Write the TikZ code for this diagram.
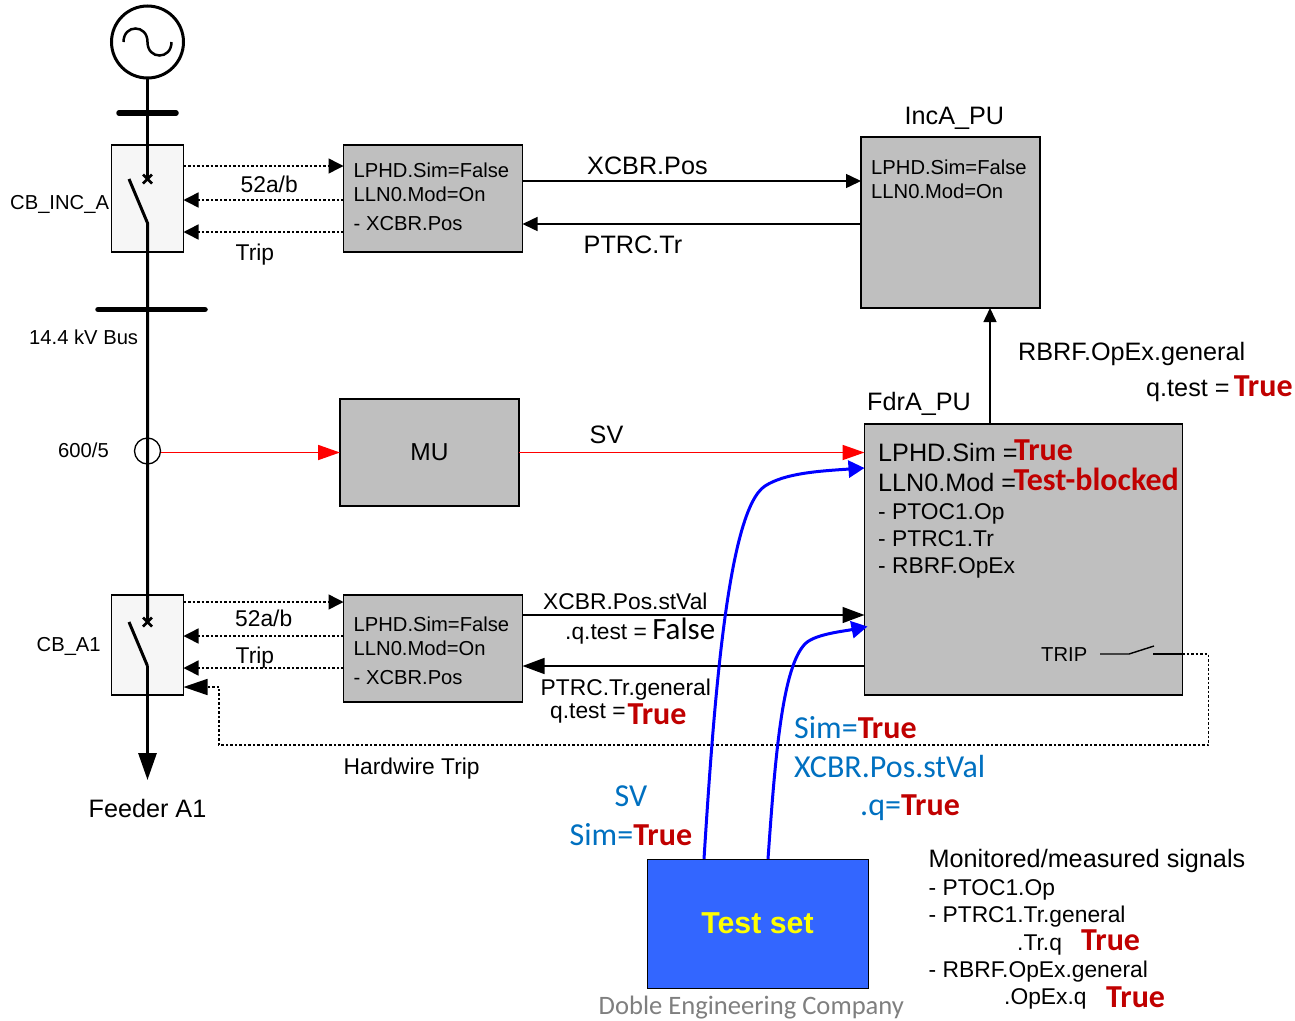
\documentclass[tikz,border=0pt]{standalone}
\usepackage{fontspec}
\setmainfont{Liberation Sans}
\newfontfamily\calibri{Carlito}
\usetikzlibrary{arrows.meta,shapes.misc}
\definecolor{boxgray}{HTML}{BFBFBF}
\definecolor{cbfill}{HTML}{F6F6F6}
\definecolor{truered}{HTML}{C00000}
\definecolor{simblue}{HTML}{0070C0}
\definecolor{testblue}{HTML}{3366FF}
\definecolor{testyellow}{HTML}{FFFF00}
\definecolor{credit}{HTML}{7F7F7F}
\newcommand{\szA}{\fontsize{20.2}{24}\selectfont}
\newcommand{\szB}{\fontsize{22.8}{27}\selectfont}
\newcommand{\szC}{\fontsize{25.2}{30}\selectfont}
\newcommand{\tval}[1]{{\calibri\bfseries\fontsize{32}{38}\selectfont\color{truered}#1}}
\tikzset{
  graybox/.style={draw,line width=1.4pt,fill=boxgray,inner sep=0pt,outer sep=0pt},
  cbbox/.style={draw,line width=1.2pt,fill=cbfill,inner sep=0pt,outer sep=0pt,minimum width=72pt},
  txt/.style={inner sep=0pt,anchor=base west,text=black},
  ctxt/.style={inner sep=0pt,anchor=base,text=black},
  bluetxt/.style={inner sep=0pt,anchor=base west,text=simblue,font=\calibri\fontsize{32}{38}\selectfont},
  busline/.style={line width=3pt},
  busbar/.style={line width=5.5pt,line cap=round},
  dotline/.style={dash pattern=on 2.5pt off 2pt,line width=1.5pt},
  dotarrow/.style={dotline,-{Triangle[length=15pt,width=15pt]}},
  sigarrow/.style={line width=1.5pt,-{Triangle[length=15pt,width=14pt]}},
  thinarrow/.style={line width=1.5pt,-{Triangle[length=14pt,width=13pt]}},
  bigarrow/.style={line width=1.5pt,-{Triangle[length=22pt,width=16pt]}},
  redarrow/.style={red,line width=1.8pt,-{Triangle[length=22pt,width=15pt]}},
  bluearrow/.style={blue,line width=3pt,-{Triangle[length=16pt,width=17pt]}},
  brk/.style={cross out,draw,line width=2.5pt,inner sep=0pt,minimum size=9pt,outer sep=0pt}
}
\begin{document}
\begin{tikzpicture}[x=1pt,y=-1pt]
  \useasboundingbox (0,0) rectangle (1295,1020);

  \node (src) [circle,draw,line width=3pt,minimum size=72pt,inner sep=0pt,outer sep=0pt] at (147.5,42) {};
  \draw [line width=2.5pt] (123.5,42) .. controls (123.5,24) and (147.5,24) .. (147.5,42)
    .. controls (147.5,60) and (171.5,60) .. (171.5,42);

  \node (cbinc) [cbbox,minimum height=107pt] at (147.5,198.5) {};
  \node (cba) [cbbox,minimum height=100pt] at (147.5,645) {};
  \node (iedinc) [graybox,minimum width=179pt,minimum height=107pt] at (433,198.5) {};
  \node (iedfdr) [graybox,minimum width=179pt,minimum height=107pt] at (433,648.5) {};
  \node (mu) [graybox,minimum width=179pt,minimum height=107pt] at (429.5,452.5) {\fontsize{24.5}{29}\selectfont MU};
  \node (incpu) [graybox,minimum width=179pt,minimum height=171pt] at (950.5,222.5) {};
  \node (fdrpu) [graybox,minimum width=318pt,minimum height=271pt] at (1023.5,559.5) {};
  \node (testset) [draw,line width=1pt,fill=testblue,inner sep=0pt,outer sep=0pt,minimum width=221pt,minimum height=129pt,
    text=testyellow,font=\bfseries\fontsize{30.3}{36}\selectfont] at (757.5,923.5) {Test set};

  \coordinate (barincl) at (119,113);
  \coordinate (barincr) at (176,113);
  \coordinate (buslft) at (98,309.5);
  \coordinate (busrgt) at (205,309.5);
  \node (xinc) [brk] at (147.5,179) {};
  \node (xa) [brk] at (147.5,622) {};
  \coordinate (bladeinc) at (129,179);
  \coordinate (hingeinc) at (147.5,223);
  \coordinate (bladea) at (129,622);
  \coordinate (hingea) at (147.5,666);
  \coordinate (feeder) at (147.5,780);
  \node (ct) [circle,draw,line width=1.3pt,minimum size=26pt,inner sep=0pt,outer sep=0pt] at (147.5,451) {};

  \draw [busline] (src.south) -- (xinc.center);
  \draw [busline] (bladeinc) -- (hingeinc) -- (xa.center);
  \draw [busline] (bladea) -- (hingea);
  \draw [busline,-{Triangle[length=27pt,width=18pt]}] (hingea) -- (feeder);
  \draw [busbar] (barincl) -- (barincr);
  \draw [busbar] (buslft) -- (busrgt);

  \draw [dotarrow] ([yshift=32.5pt]cbinc.east) -- ([yshift=32.5pt]iedinc.west);
  \draw [dotarrow] ([yshift=-1.5pt]iedinc.west) -- ([yshift=-1.5pt]cbinc.east);
  \draw [dotarrow] ([yshift=-33.5pt]iedinc.west) -- ([yshift=-33.5pt]cbinc.east);
  \draw [dotarrow] ([yshift=43pt]cba.east) -- ([yshift=46.5pt]iedfdr.west);
  \draw [dotarrow] ([yshift=12.5pt]iedfdr.west) -- ([yshift=9pt]cba.east);
  \draw [dotarrow] ([yshift=-19.5pt]iedfdr.west) -- ([yshift=-23pt]cba.east);

  \draw [sigarrow] ([yshift=17.5pt]iedinc.east) -- ([yshift=17.5pt]incpu.west |- iedinc.east);
  \draw [sigarrow] ([yshift=-25.5pt]incpu.west |- iedinc.east) -- ([yshift=-25.5pt]iedinc.east);
  \draw [thinarrow] (fdrpu.north -| 990,0) -- (incpu.south -| 990,0);
  \draw [redarrow] (160.5,452.5) -- (mu.west);
  \draw [redarrow] (mu.east) -- (fdrpu.west |- mu.east);
  \draw [bigarrow] ([yshift=33.5pt]iedfdr.east) -- ([yshift=33.5pt]fdrpu.west |- iedfdr.east);
  \draw [bigarrow] ([yshift=-17.5pt]fdrpu.west |- iedfdr.east) -- ([yshift=-17.5pt]iedfdr.east);

  \coordinate (tripa) at (1100,654);
  \coordinate (tripb) at (1129,654);
  \coordinate (tripc) at (1154,646);
  \coordinate (tripd) at (1153,654);
  \coordinate (tripe) at (1182,654);
  \coordinate (hwa) at (1208.5,654);
  \coordinate (hwb) at (1208.5,745);
  \coordinate (hwc) at (219,745);
  \coordinate (hwd) at (219,687);
  \draw [line width=1.4pt] (tripa) -- (tripb) -- (tripc);
  \draw [line width=1.4pt] (tripd) -- (tripe);
  \draw [dotline] (tripe) -- (hwa) -- (hwb) -- (hwc) -- (hwd);
  \draw [dotline,-{Triangle[length=24pt,width=16pt]}] (hwd) -- ([yshift=-42pt]cba.east);

  \draw [bluearrow] ([xshift=-53.5pt]testset.north) .. controls (714,700) and (728,510) .. (765,486)
    .. controls (785,473) and (820,471) .. ([yshift=91.5pt]fdrpu.west);
  \draw [bluearrow] ([xshift=10.5pt]testset.north) .. controls (775,760) and (782,665) .. (806,643)
    .. controls (816,634) and (845,631) .. ([xshift=3pt,yshift=-67pt]fdrpu.west);

  \node (cbinclbl) [txt,font=\szA] at (10,209) {CB\_INC\_A};
  \node (cbalbl) [txt,font=\szA] at (36.5,651) {CB\_A1};
  \node (buslbl) [txt,font=\szA] at (29,344) {14.4 kV Bus};
  \node (ctlbl) [txt,font=\szA] at (58,457) {600/5};
  \node (feederlbl) [ctxt,font=\szC] at (147.5,817) {Feeder A1};
  \node (l52inc) [txt,font=\szB] at (240.5,192) {52a/b};
  \node (ltripinc) [txt,font=\szB] at (235.5,260) {Trip};
  \node (l52a) [txt,font=\szB] at (235,626) {52a/b};
  \node (ltripa) [txt,font=\szB] at (235.5,663) {Trip};
  \node (lhw) [txt,font=\szB] at (343.5,774) {Hardwire Trip};

  \node (tinca) [txt,font=\szA] at (353.5,177) {LPHD.Sim=False};
  \node (tincb) [txt,font=\szA] at (353.5,201) {LLN0.Mod=On};
  \node (tincc) [txt,font=\szA] at (353.5,230) {- XCBR.Pos};
  \node (tfdra) [txt,font=\szA] at (353.5,631) {LPHD.Sim=False};
  \node (tfdrb) [txt,font=\szA] at (353.5,655) {LLN0.Mod=On};
  \node (tfdrc) [txt,font=\szA] at (353.5,684) {- XCBR.Pos};
  \node (tpua) [txt,font=\szA] at (871,174) {LPHD.Sim=False};
  \node (tpub) [txt,font=\szA] at (871,198) {LLN0.Mod=On};

  \node (incname) [txt,font=\szC] at (904.5,124) {IncA\_PU};
  \node (fdrname) [txt,font=\szC] at (867,410) {FdrA\_PU};
  \node (lpos) [txt,font=\szC] at (587,174) {XCBR.Pos};
  \node (ltr) [txt,font=\szC] at (583.5,253) {PTRC.Tr};
  \node (lsv) [txt,font=\szC] at (589.5,443) {SV};
  \node (lop) [txt,font=\szC] at (1018,360) {RBRF.OpEx.general};
  \node (lqa) [txt,font=\szC] at (1146,396) {q.test =\,\tval{True}};

  \node (fa) [txt,font=\szC] at (878,461) {LPHD.Sim =\hspace{-3.5pt}\raisebox{0.5pt}{\tval{True}}};
  \node (fb) [txt,font=\szC] at (878,491) {LLN0.Mod =\hspace{-2.5pt}\raisebox{0.5pt}{\tval{Test-blocked}}};
  \node (fc) [txt,font=\szB] at (878,519) {- PTOC1.Op};
  \node (fd) [txt,font=\szB] at (878,546) {- PTRC1.Tr};
  \node (fe) [txt,font=\szB] at (878,573) {- RBRF.OpEx};
  \node (ftrip) [txt,font=\szA] at (1041,661) {TRIP};

  \node (lstval) [txt,font=\szB] at (543,609) {XCBR.Pos.stVal};
  \node (lqb) [txt,font=\szB] at (565,639) {.q.test =\hspace{-1pt} {\calibri\fontsize{31}{36}\selectfont False}};
  \node (lgen) [txt,font=\szB] at (540.5,695) {PTRC.Tr.general};
  \node (lqc) [txt,font=\szB] at (550,718) {q.test =\hspace{2pt}\raisebox{-6pt}{\tval{True}}};

  \node (bsim) [bluetxt] at (794,738) {Sim=\tval{True}};
  \node (bpos) [bluetxt] at (794,777) {XCBR.Pos.stVal};
  \node (bq) [bluetxt] at (860,815) {.q=\tval{True}};
  \node (bsv) [bluetxt] at (614.5,806) {SV};
  \node (bsimb) [bluetxt] at (569.5,845) {Sim=\tval{True}};

  \node (mon) [txt,font=\szC] at (928.5,867) {Monitored/measured signals};
  \node (mona) [txt,font=\szB] at (928.5,895) {- PTOC1.Op};
  \node (monb) [txt,font=\szB] at (928.5,922) {- PTRC1.Tr.general};
  \node (monc) [txt,font=\szB] at (1017,950) {.Tr.q};
  \node (mont) [txt] at (1081,950) {\tval{True}};
  \node (mond) [txt,font=\szB] at (928.5,977) {- RBRF.OpEx.general};
  \node (mone) [txt,font=\szB] at (1004,1004) {.OpEx.q};
  \node (monu) [txt] at (1106,1007) {\tval{True}};
  \node (company) [txt,text=credit,font=\calibri\fontsize{26.6}{32}\selectfont] at (598.5,1014.5) {Doble Engineering Company};
\end{tikzpicture}
\end{document}
